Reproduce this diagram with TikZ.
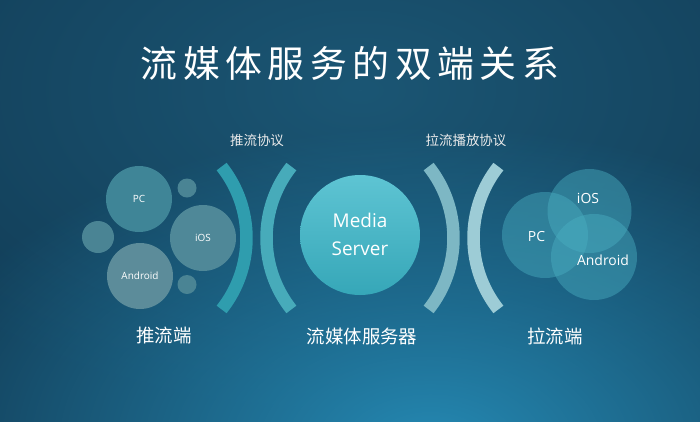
\documentclass[tikz,border=0pt]{standalone}
\usepackage{fontspec}
\usetikzlibrary{fadings}
\setmainfont{Open Sans}
\newfontfamily\cjk{Noto Sans CJK SC}
\newfontfamily\cjktitle[LetterSpace=15]{Noto Sans CJK SC}
\definecolor{bgcol}{HTML}{123D57}
\definecolor{glowin}{HTML}{2589B3}
\definecolor{topglow}{HTML}{1B5674}
\definecolor{arcA}{HTML}{2F9DAE}
\definecolor{arcB}{HTML}{47ABBA}
\definecolor{arcC}{HTML}{7DB7C4}
\definecolor{arcD}{HTML}{9DCCD6}
\definecolor{msTop}{HTML}{5EC4D3}
\definecolor{msBot}{HTML}{36A7B8}
\definecolor{cPC}{HTML}{3F8597}
\definecolor{cIOS}{HTML}{4F8898}
\definecolor{cAnd}{HTML}{5C8C9A}
\definecolor{cSmall}{HTML}{4A8494}
\definecolor{cRight}{HTML}{4AAFC2}
\tikzfading[name=softfade, inner color=transparent!0, outer color=transparent!100]
\tikzset{
  bubble/.style={circle, inner sep=0pt, text=white, font=\fontsize{10}{12}\selectfont},
  rbubble/.style={circle, inner sep=0pt, fill=cRight, fill opacity=0.45, text opacity=1, text=white, font=\fontsize{14}{16}\selectfont},
  band/.style={line width=12.5bp},
  caplabel/.style={text=white, font=\cjk\fontsize{18.5}{22}\selectfont},
  proto/.style={text=white!92!black, font=\cjk\fontsize{13.5}{16}\selectfont},
}
\begin{document}
\begin{tikzpicture}[x=1bp,y=-1bp]
\useasboundingbox (0,0) rectangle (700,421);
\fill[bgcol] (-10,-10) rectangle (710,431);
\fill[topglow, path fading=softfade] (360,90) ellipse [x radius=560, y radius=330];
\fill[glowin, path fading=softfade] (430,445) ellipse [x radius=540, y radius=320];
% title
\node (title) at (350,63) {\cjktitle\fontsize{37}{40}\selectfont\color{white}流媒体服务的双端关系};
% left cluster
\node[bubble, fill=cPC, minimum size=66bp] (lpc) at (139,199) {PC};
\node[bubble, fill=cIOS, minimum size=66bp] (lios) at (203,238) {iOS};
\node[bubble, fill=cAnd, minimum size=66bp] (land) at (140,276) {Android};
\node[bubble, fill=cSmall, minimum size=32bp] (ls1) at (98,237) {};
\node[bubble, fill=cSmall, minimum size=19bp] (ls2) at (187,188) {};
\node[bubble, fill=cSmall, minimum size=19bp] (ls3) at (187,284.5) {};
% arcs
\draw[band, arcA] ([shift={(-38.4:115)}]131.5,238) arc[start angle=-38.4, end angle=38.4, radius=115];
\draw[band, arcB] ([shift={(141.6:115)}]381.5,238) arc[start angle=141.6, end angle=218.4, radius=115];
\draw[band, arcC] ([shift={(-38.4:115)}]338.5,238) arc[start angle=-38.4, end angle=38.4, radius=115];
\draw[band, arcD] ([shift={(141.6:115)}]588.5,238) arc[start angle=141.6, end angle=218.4, radius=115];
% media server
\shade[top color=msTop, bottom color=msBot] (360,235) circle (60);
\node[text=white, align=center, font=\fontsize{19}{28}\selectfont] (ms) at (360,234) {Media\\Server};
% right cluster
\node[rbubble, minimum size=86bp] (rpc) at (545,235) {};
\node[rbubble, minimum size=84bp] (rios) at (589.5,211) {};
\node[rbubble, minimum size=86bp] (rand) at (594,257) {};
\node[text=white, font=\fontsize{14}{16}\selectfont] (tpc) at (536.5,237) {PC};
\node[text=white, font=\fontsize{14}{16}\selectfont] (tios) at (588,198) {iOS};
\node[text=white, font=\fontsize{14}{16}\selectfont] (tand) at (603,260) {Android};
% labels
\node[proto] (p1) at (257,140) {推流协议};
\node[proto] (p2) at (466,140) {拉流播放协议};
\node[caplabel] (c1) at (164,336) {推流端};
\node[caplabel] (c2) at (362,336) {流媒体服务器};
\node[caplabel] (c3) at (555,336) {拉流端};
\end{tikzpicture}
\end{document}
